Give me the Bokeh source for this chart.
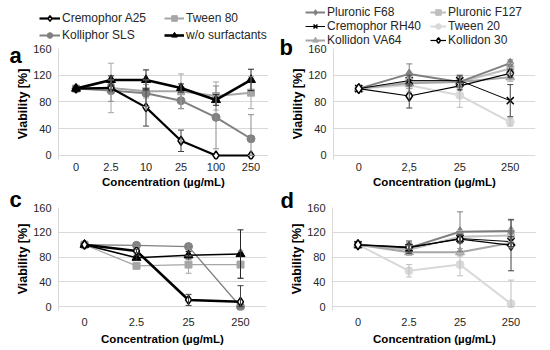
from bokeh.plotting import figure
from bokeh.models import (FactorRange, Range1d, Whisker, ColumnDataSource, Legend,
                          LegendItem, TeeHead, FixedTicker, Label, GridBox)
from bokeh.layouts import column, row
from bokeh.embed import file_html
from bokeh.resources import INLINE

FONT = "Liberation Sans"

# ---------------- data ----------------
# panel a
cats_a = ["0", "2.5", "10", "25", "100", "250"]
a_tween80 = [100, 101, 96, 96, 89, 94]
a_tween80_err = [0, 37, 10, 26, 21, 24]
a_kolliphor = [100, 97, 93, 82, 57, 25]
a_kolliphor_err = [0, 16, 20, 12, 47, 36]
a_cremophor = [100, 101, 72, 22, 0, 0]
a_cremophor_err = [0, 3, 28, 16, 0, 0]
a_wo = [100, 113, 113, 101, 83, 113]
a_wo_err = [0, 6, 15, 6, 8, 16]

# panel b
cats_b = ["0", "2,5", "25", "250"]
b_f127 = [100, 110, 110, 130]
b_f127_err = [0, 10, 10, 8]
b_tween20 = [100, 105, 90, 50]
b_tween20_err = [0, 10, 18, 6]
b_va64 = [100, 108, 110, 117]
b_va64_err = [0, 8, 8, 6]
b_f68 = [100, 122, 110, 138]
b_f68_err = [0, 15, 8, 5]
b_rh40 = [100, 112, 112, 82]
b_rh40_err = [0, 8, 8, 24]
b_k30 = [100, 89, 104, 123]
b_k30_err = [0, 18, 6, 6]

# panel c
cats_c = ["0", "2.5", "25", "250"]
c_tween80 = [100, 66, 68, 68]
c_tween80_err = [0, 4, 14, 22]
c_kolliphor = [100, 99, 97, 0]
c_kolliphor_err = [0, 2, 3, 0]
c_wo = [100, 79, 83, 85]
c_wo_err = [0, 4, 6, 39]
c_cremophor = [100, 90, 11, 8]
c_cremophor_err = [0, 3, 9, 26]

# panel d
cats_d = ["0", "2.5", "25", "250"]
d_tween20 = [100, 58, 68, 5]
d_tween20_err = [0, 10, 18, 38]
d_f127 = [100, 92, 113, 115]
d_f127_err = [0, 6, 10, 10]
d_va64 = [100, 88, 88, 103]
d_va64_err = [0, 5, 6, 8]
d_f68 = [100, 95, 121, 122]
d_f68_err = [0, 8, 32, 19]
d_rh40 = [100, 95, 110, 105]
d_rh40_err = [0, 6, 6, 8]
d_k30 = [100, 96, 109, 99]
d_k30_err = [0, 10, 6, 41]

y_ticks = [0, 40, 80, 120, 160]

# ---------------- styles ----------------
STY = {
    "Cremophor A25": dict(color="black", lw=2.2, marker="diamond", fill="white", size=9, lc="black", err="#404040"),
    "Tween 80": dict(color="#a6a6a6", lw=2, marker="square", fill="#a6a6a6", size=7, lc="#a6a6a6", err="#a6a6a6"),
    "Kolliphor SLS": dict(color="#808080", lw=2, marker="circle", fill="#808080", size=8, lc="#808080", err="#8c8c8c"),
    "w/o surfactants": dict(color="black", lw=2.6, marker="triangle", fill="black", size=9, lc="black", err="#262626"),
    "Pluronic F68": dict(color="#808080", lw=2, marker="diamond", fill="#808080", size=10, lc="#808080", err="#808080"),
    "Pluronic F127": dict(color="#bfbfbf", lw=2, marker="square", fill="#bfbfbf", size=7, lc="#bfbfbf", err="#bfbfbf"),
    "Cremophor RH40": dict(color="black", lw=1, marker="x", fill="black", size=10, lc="black", err="#404040"),
    "Tween 20": dict(color="#d9d9d9", lw=2, marker="circle", fill="#d9d9d9", size=8, lc="#d9d9d9", err="#bfbfbf"),
    "Kollidon VA64": dict(color="#a6a6a6", lw=2, marker="triangle", fill="#a6a6a6", size=9, lc="#a6a6a6", err="#a6a6a6"),
    "Kollidon 30": dict(color="black", lw=1.2, marker="diamond", fill="white", size=10, lc="black", err="#404040"),
}


def add_series(p, x, name, vals, lw=None, visible=True):
    s = STY[name]
    src = ColumnDataSource(dict(x=x, y=vals))
    lr = p.line("x", "y", source=src, line_color=s["color"],
                line_width=lw if lw else s["lw"], visible=visible)
    mr = p.scatter("x", "y", source=src, marker=s["marker"], size=s["size"],
                   fill_color=s["fill"], line_color=s["lc"],
                   line_width=1.5 if s["fill"] == "white" or s["marker"] == "x" else 1,
                   visible=visible)
    return [lr, mr]


def make_panel(cats, series, width, height, bl, br, bt, bb, tick_so, title_so, lw_override=None):
    p = figure(x_range=FactorRange(factors=cats), y_range=Range1d(-6, 160),
               width=width, height=height, min_border_left=bl, min_border_right=br,
               min_border_top=bt, min_border_bottom=bb,
               output_backend="svg", toolbar_location=None)
    p.outline_line_color = None
    p.xgrid.grid_line_color = None
    p.ygrid.grid_line_color = "#d9d9d9"
    p.yaxis.ticker = FixedTicker(ticks=y_ticks)
    for ax in (p.xaxis[0], p.yaxis[0]):
        ax.major_tick_out = 0
        ax.major_tick_in = 0
        ax.minor_tick_out = 0
        ax.minor_tick_in = 0
        ax.major_label_text_font = FONT
        ax.major_label_text_font_size = "11px"
        ax.major_label_text_color = "#262626"
        ax.axis_label_text_font = FONT
        ax.axis_label_text_font_style = "bold"
        ax.axis_label_text_color = "black"
    p.xaxis.axis_line_color = None
    p.yaxis.axis_line_color = "#d9d9d9"
    p.xaxis.axis_label = "Concentration (µg/mL)"
    p.xaxis.axis_label_text_font_size = "11.5px"
    p.xaxis.major_label_standoff = tick_so
    p.xaxis.axis_label_standoff = title_so
    p.yaxis.axis_label = "Viability [%]"
    p.yaxis.axis_label_text_font_size = "12.5px"
    p.yaxis.major_label_standoff = 7
    p.yaxis.axis_label_standoff = 0

    for name, vals, errs in series:
        s = STY[name]
        xs = [c for c, e in zip(cats, errs) if e > 0]
        up = [v + e for v, e in zip(vals, errs) if e > 0]
        lo = [max(v - e, 0) for v, e in zip(vals, errs) if e > 0]
        wsrc = ColumnDataSource(dict(x=xs, upper=up, lower=lo))
        w = Whisker(base="x", upper="upper", lower="lower", source=wsrc,
                    line_color=s["err"], line_width=1, level="glyph",
                    upper_head=TeeHead(size=6, line_color=s["err"], line_width=1),
                    lower_head=TeeHead(size=6, line_color=s["err"], line_width=1))
        p.add_layout(w)
        lw = lw_override.get(name) if lw_override else None
        add_series(p, cats, name, vals, lw=lw)
    return p


# panels
pa = make_panel(cats_a, [("Tween 80", a_tween80, a_tween80_err),
                         ("Kolliphor SLS", a_kolliphor, a_kolliphor_err),
                         ("Cremophor A25", a_cremophor, a_cremophor_err),
                         ("w/o surfactants", a_wo, a_wo_err)],
                275, 190, 58, 7, 48, 30, 3, 2)

pb = make_panel(cats_b, [("Pluronic F127", b_f127, b_f127_err),
                         ("Tween 20", b_tween20, b_tween20_err),
                         ("Kollidon VA64", b_va64, b_va64_err),
                         ("Pluronic F68", b_f68, b_f68_err),
                         ("Cremophor RH40", b_rh40, b_rh40_err),
                         ("Kollidon 30", b_k30, b_k30_err)],
                275, 190, 58, 15, 48, 30, 3, 2)

thin = {"Tween 80": 1.3, "Kolliphor SLS": 1.3, "w/o surfactants": 1.6, "Cremophor A25": 2.6}
pc = make_panel(cats_c, [("Tween 80", c_tween80, c_tween80_err),
                         ("Kolliphor SLS", c_kolliphor, c_kolliphor_err),
                         ("w/o surfactants", c_wo, c_wo_err),
                         ("Cremophor A25", c_cremophor, c_cremophor_err)],
                275, 160, 58, 9, 17, 40, 7, 4, lw_override=thin)

pd_ = make_panel(cats_d, [("Tween 20", d_tween20, d_tween20_err),
                          ("Pluronic F127", d_f127, d_f127_err),
                          ("Kollidon VA64", d_va64, d_va64_err),
                          ("Pluronic F68", d_f68, d_f68_err),
                          ("Cremophor RH40", d_rh40, d_rh40_err),
                          ("Kollidon 30", d_k30, d_k30_err)],
                 275, 160, 57, 14, 17, 40, 7, 4)

# transparent overlay carrying the legends and panel letters (page pixel coordinates)
ov = figure(width=550, height=350, x_range=Range1d(0, 550), y_range=Range1d(350, 0),
            x_axis_location=None, y_axis_location=None,
            min_border_left=0, min_border_right=0, min_border_top=0, min_border_bottom=0,
            output_backend="svg", toolbar_location=None)
ov.outline_line_color = None
ov.border_fill_alpha = 0
ov.background_fill_alpha = 0
ov.grid.visible = False

leg_a = {"Cremophor A25": a_cremophor, "Kolliphor SLS": a_kolliphor,
         "Tween 80": a_tween80, "w/o surfactants": a_wo}
leg_b = {"Pluronic F68": b_f68, "Cremophor RH40": b_rh40, "Kollidon VA64": b_va64,
         "Pluronic F127": b_f127, "Tween 20": b_tween20, "Kollidon 30": b_k30}
proxy = {}
for name, vals in list(leg_a.items()) + list(leg_b.items()):
    proxy[name] = add_series(ov, list(range(len(vals))), name, vals, visible=False)


def legend(names, loc, gw, spacing):
    return Legend(items=[LegendItem(label=n, renderers=proxy[n]) for n in names],
                  location=loc, orientation="vertical",
                  glyph_width=gw, glyph_height=14, label_height=14, spacing=spacing,
                  label_standoff=2, padding=0, margin=0,
                  border_line_color=None, background_fill_alpha=0,
                  label_text_font=FONT, label_text_font_size="12px",
                  label_text_color="#262626")


ov.add_layout(legend(["Cremophor A25", "Kolliphor SLS"], (39, 308), 21, 3))
ov.add_layout(legend(["Tween 80", "w/o surfactants"], (164, 308), 20, 3))
ov.add_layout(legend(["Pluronic F68", "Cremophor RH40", "Kollidon VA64"], (305, 303), 20, -4))
ov.add_layout(legend(["Pluronic F127", "Tween 20", "Kollidon 30"], (430, 303), 16, -4))

for txt, lx, ly in [("a", 9, 55), ("b", 279, 47), ("c", 9, 199), ("d", 280, 200)]:
    ov.add_layout(Label(x=lx, y=ly, text=txt, text_font=FONT, text_font_size="22px",
                        text_font_style="bold", text_baseline="alphabetic",
                        text_color="black"))

panels = column(row(pa, pb, spacing=0), row(pc, pd_, spacing=0), spacing=0)
layout = GridBox(children=[(panels, 0, 0), (ov, 0, 0)], spacing=0)
open("out.html", "w").write(file_html(layout, INLINE))
